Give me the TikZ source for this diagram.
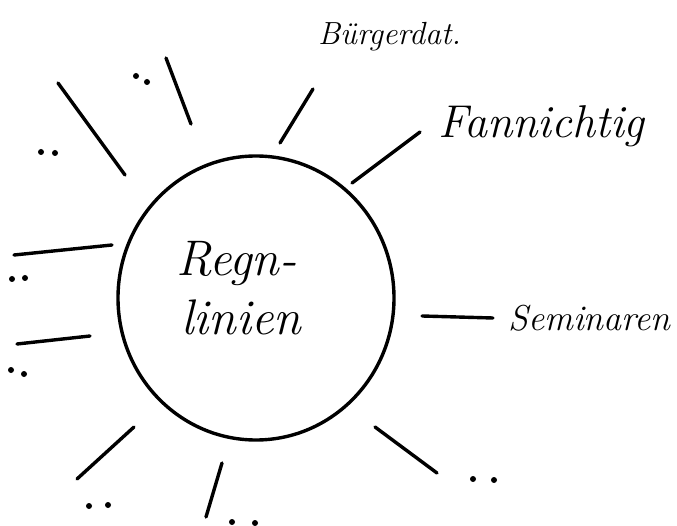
\documentclass[tikz,border=0pt]{standalone}
\usepackage{fontspec}
\usetikzlibrary{shapes.geometric}
\tikzset{
  stroke/.style={line width=3.4pt, line cap=round, black},
  hand/.style={inner sep=0pt, anchor=base west},
  dotmark/.style={circle, fill=black, inner sep=0pt, minimum size=6pt}
}
\newcommand\handsize[1]{\fontsize{#1}{#1}\selectfont\itshape}
\begin{document}
\begin{tikzpicture}[x=1pt, y=-1pt]
  \useasboundingbox (0,0) rectangle (677,526);
  % Centre
  \node[draw, ellipse, line width=3.4pt, minimum width=276pt, minimum height=284pt] (regl) at (256,298) {};
  \node[hand, font=\handsize{50}] (reglabel) at (176,276) {Regn-};
  \node[hand, font=\handsize{50}] (reglabelb) at (181,335) {linien};
  % Named branches
  \coordinate (b1) at (280,143); \coordinate (b2) at (313,89);
  \node[hand, font=\handsize{32}] (buerger) at (318,45) {Bürgerdat.};
  \coordinate (f1) at (352,183); \coordinate (f2) at (420,132);
  \node[hand, font=\handsize{46}] (fann) at (438,138) {Fannichtig};
  \coordinate (s1) at (422,316); \coordinate (s2) at (493,318);
  \node[hand, font=\handsize{36}] (semi) at (508,331) {Seminaren};
  \draw[stroke] (b1) -- (b2);
  \draw[stroke] (f1) -- (f2);
  \draw[stroke] (s1) -- (s2);
  % Open branches
  \coordinate (t1) at (191,124); \coordinate (t2) at (166,58);
  \coordinate (u1) at (125,175); \coordinate (u2) at (58,83);
  \coordinate (l1) at (112,245); \coordinate (l2) at (14,255);
  \coordinate (m1) at (90,336);  \coordinate (m2) at (17,344);
  \coordinate (d1) at (134,427); \coordinate (d2) at (77,479);
  \coordinate (e1) at (222,463); \coordinate (e2) at (206,517);
  \coordinate (r1) at (375,427); \coordinate (r2) at (437,473);
  \foreach \p/\q in {t1/t2, u1/u2, l1/l2, m1/m2, d1/d2, e1/e2, r1/r2}
    \draw[stroke] (\p) -- (\q);
  % Dots
  \foreach \n/\x/\y in {ta/136/76, tb/147/82, ua/41/152, ub/55/153,
      la/12/279, lb/25/278, ma/11/370, mb/24/374, da/89/506, db/108/505,
      ea/232/522, eb/255/523, ra/473/479, rb/494/480}
    \node[dotmark] (dot\n) at (\x,\y) {};
\end{tikzpicture}
\end{document}
